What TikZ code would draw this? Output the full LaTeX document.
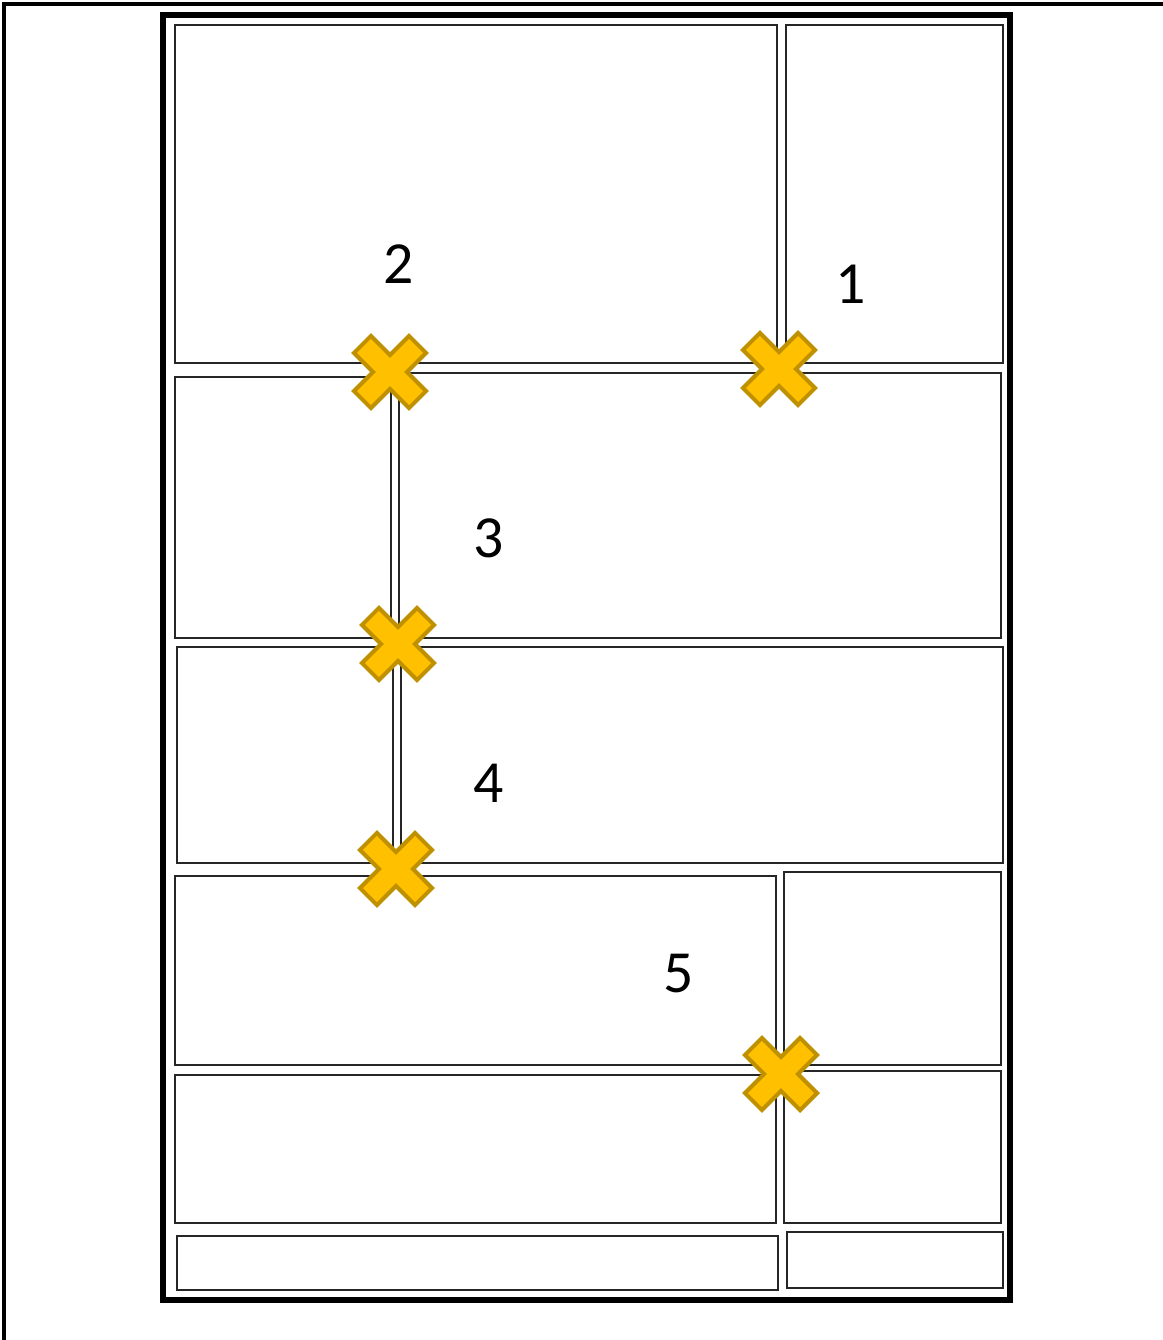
\documentclass[tikz,border=0pt]{standalone}
\usepackage{fontspec}
\setmainfont{Carlito}
\definecolor{xfill}{HTML}{FFC000}
\definecolor{xline}{HTML}{BF9000}
\tikzset{
    panel/.style={draw=black!85, line width=0.2mm},
    xmark/.style={fill=xfill, draw=xline, line width=0.4mm, line join=miter},
    num/.style={font=\fontsize{17pt}{20pt}\selectfont, inner sep=0pt},
}
\begin{document}
\begin{tikzpicture}[x=0.1mm, y=-0.1mm]
    \useasboundingbox (0,0) rectangle (1163,1340);
    \draw[line width=0.35mm] (4,1340) -- (4,4) -- (1163,4);
    \draw[line width=0.55mm] (163,15) rectangle (1010,1300);
    % panels, row by row
    \foreach \xa/\ya/\xb/\yb in {175/25/777/363, 786/25/1003/363,
        175/377/391/638, 399/373/1001/638,
        177/647/393/863, 401/647/1003/863,
        175/876/776/1065, 784/872/1001/1065,
        175/1075/776/1223, 784/1071/1001/1223,
        177/1236/778/1290, 787/1232/1003/1288}
        \draw[panel] (\xa,\ya) rectangle (\xb,\yb);
    % crossings
    \foreach \cx/\cy in {390/372, 779/369, 398/644, 396/869, 781/1074}
        \draw[xmark, shift={(\cx,\cy)}, rotate=45]
            (12,12) -- (39,12) -- (39,-12) -- (12,-12) -- (12,-39) -- (-12,-39)
            -- (-12,-12) -- (-39,-12) -- (-39,12) -- (-12,12) -- (-12,39) -- (12,39) -- cycle;
    \node[num] (n1) at (851,284) {1};
    \node[num] (n2) at (399,264) {2};
    \node[num] (n3) at (489,538) {3};
    \node[num] (n4) at (489,783) {4};
    \node[num] (n5) at (679,974) {5};
\end{tikzpicture}
\end{document}
